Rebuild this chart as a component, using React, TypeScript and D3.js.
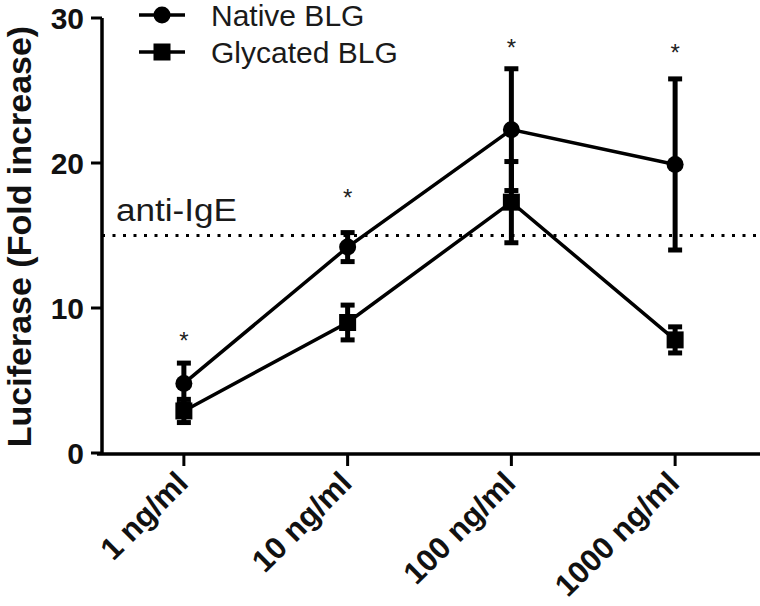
import React from "react";
import * as d3 from "d3";

const categories = ["1 ng/ml", "10 ng/ml", "100 ng/ml", "1000 ng/ml"];
const nativeMean = [4.8, 14.2, 22.3, 19.9];
const nativeErr = [1.4, 1.0, 4.2, 5.9];
const glycatedMean = [2.9, 9.0, 17.3, 7.8];
const glycatedErr = [0.8, 1.2, 2.8, 0.9];
const starValues = [8.1, 17.9, 28.3, 27.9];
const yTicks = [0, 10, 20, 30];
const antiIgE = 15;
const seriesNames = ["Native BLG", "Glycated BLG"];

const W = 760;
const H = 606;
const FONT = "'Liberation Sans', Arial, Helvetica, sans-serif";

export default function App() {
  const x = d3.scalePoint<string>().domain(categories).range([102, 757]).padding(0.5);
  const y = d3.scaleLinear().domain([0, 30]).range([453, 18]);
  const lineGen = d3
    .line<number>()
    .x((_, i) => x(categories[i]) as number)
    .y((d) => y(d));

  const errBars = (means: number[], errs: number[], key: string) =>
    means.map((m, i) => {
      const cx = x(categories[i]) as number;
      const y1 = y(m + errs[i]);
      const y2 = y(m - errs[i]);
      return (
        <g key={key + i} stroke="#000" strokeWidth={5}>
          <line x1={cx} x2={cx} y1={y1} y2={y2} />
          <line x1={cx - 7} x2={cx + 7} y1={y1} y2={y1} />
          <line x1={cx - 7} x2={cx + 7} y1={y2} y2={y2} />
        </g>
      );
    });

  const sq = 17;

  return (
    <svg
      width={W}
      height={H}
      style={{ position: "absolute", left: 0, top: 0, background: "#fff" }}
      fontFamily={FONT}
    >
      <rect width={W} height={H} fill="#fff" />
      {/* anti-IgE reference line */}
      <line
        x1={102}
        x2={W}
        y1={y(antiIgE)}
        y2={y(antiIgE)}
        stroke="#000"
        strokeWidth={3}
        strokeDasharray="3 7.5"
      />
      <text
        x={116}
        y={y(antiIgE) - 15}
        fontSize={31}
        fill="#1a1a1a"
        textLength={121}
        lengthAdjust="spacingAndGlyphs"
      >
        anti-IgE
      </text>

      {/* axes */}
      <line x1={102} x2={102} y1={y(30)} y2={y(0) + 2} stroke="#000" strokeWidth={3.5} />
      <line x1={97} x2={W} y1={y(0) + 1} y2={y(0) + 1} stroke="#000" strokeWidth={3.5} />
      {yTicks.map((t) => (
        <g key={"yt" + t}>
          <line x1={91} x2={102} y1={y(t)} y2={y(t)} stroke="#000" strokeWidth={3} />
          <text
            x={84}
            y={y(t) + 11}
            textAnchor="end"
            fontSize={30}
            fontWeight="bold"
            fill="#111"
          >
            {t}
          </text>
        </g>
      ))}
      {categories.map((c) => {
        const cx = x(c) as number;
        return (
          <g key={"xt" + c}>
            <line x1={cx} x2={cx} y1={y(0)} y2={y(0) + 13} stroke="#000" strokeWidth={3} />
            <text
              transform={`translate(${cx + 6},${y(0) + 32}) rotate(-45)`}
              textAnchor="end"
              fontSize={31}
              fontWeight="bold"
              fill="#111"
            >
              {c}
            </text>
          </g>
        );
      })}
      <text
        transform={`translate(31,${(y(0) + y(30)) / 2 + 1}) rotate(-90)`}
        textAnchor="middle"
        fontSize={34}
        fontWeight="bold"
        fill="#111"
      >
        Luciferase (Fold increase)
      </text>

      {/* error bars */}
      {errBars(glycatedMean, glycatedErr, "g")}
      {errBars(nativeMean, nativeErr, "n")}

      {/* lines */}
      <path d={lineGen(nativeMean) as string} fill="none" stroke="#000" strokeWidth={3.5} />
      <path d={lineGen(glycatedMean) as string} fill="none" stroke="#000" strokeWidth={3.5} />

      {/* markers */}
      {nativeMean.map((m, i) => (
        <circle key={"nc" + i} cx={x(categories[i]) as number} cy={y(m)} r={8.5} fill="#000" />
      ))}
      {glycatedMean.map((m, i) => (
        <rect
          key={"gs" + i}
          x={(x(categories[i]) as number) - sq / 2}
          y={y(m) - sq / 2}
          width={sq}
          height={sq}
          fill="#000"
        />
      ))}

      {/* significance stars */}
      {starValues.map((v, i) => (
        <text
          key={"st" + i}
          x={x(categories[i]) as number}
          y={y(v) + 13}
          textAnchor="middle"
          fontSize={24}
          fill="#222"
        >
          *
        </text>
      ))}

      {/* legend */}
      {seriesNames.map((name, i) => {
        const ly = 15 + i * 37;
        return (
          <g key={"lg" + i}>
            <line x1={139} x2={185} y1={ly} y2={ly} stroke="#000" strokeWidth={3.5} />
            {i === 0 ? (
              <circle cx={162} cy={ly} r={8.5} fill="#000" />
            ) : (
              <rect x={162 - sq / 2} y={ly - sq / 2} width={sq} height={sq} fill="#000" />
            )}
            <text x={211} y={ly + 11} fontSize={30} fill="#1a1a1a">
              {name}
            </text>
          </g>
        );
      })}
    </svg>
  );
}
